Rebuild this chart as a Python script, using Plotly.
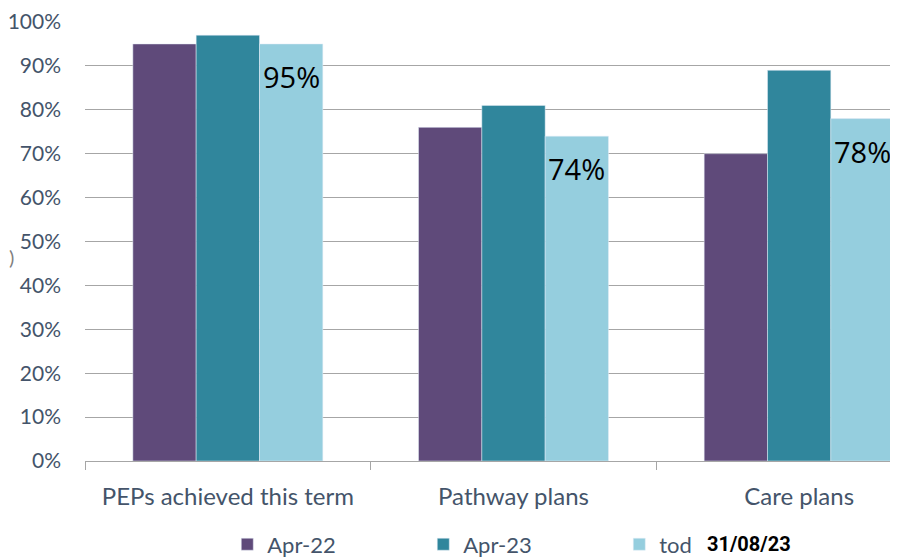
import plotly.graph_objects as go

categories = ["PEPs achieved this term", "Pathway plans", "Care plans"]
apr22 = [0.95, 0.76, 0.70]
apr23 = [0.97, 0.81, 0.89]
today = [0.95, 0.74, 0.78]
series_names = ["Apr-22", "Apr-23", "tod"]
date_label = "31/08/23"

colors = ["#5f4a7a", "#30869c", "#95cede"]
txt = "#44546a"
font_family = "Lato, 'Noto Sans', sans-serif"
bargap = 0.335
bar_w = (1 - bargap) / 3

fig = go.Figure()
fig.add_trace(go.Bar(x=categories, y=apr22, name=series_names[0], marker_color=colors[0]))
fig.add_trace(go.Bar(x=categories, y=apr23, name=series_names[1], marker_color=colors[1]))
fig.add_trace(go.Bar(x=categories, y=today, name=series_names[2], marker_color=colors[2]))

annotations = []
for i, v in enumerate(today):
    annotations.append(dict(
        text=f"{v:.0%}", x=i + bar_w, y=v, xref="x", yref="y",
        xanchor="center", yanchor="top", yshift=-12, showarrow=False,
        font=dict(size=29, color="black", family="'Open Sans', sans-serif"), borderpad=0))

annotations += [
    dict(text="<b>" + date_label + "</b>", xref="paper", yref="paper", x=0.764, y=-0.19,
         xanchor="left", yanchor="middle", showarrow=False,
         font=dict(size=20, color="black", family="Roboto, sans-serif"), borderpad=0),
    dict(text=")", xref="paper", yref="paper", x=-0.091, y=0.465, xanchor="center",
         yanchor="middle", showarrow=False, font=dict(size=20, color="#7f7f7f")),
]

fig.update_layout(
    width=890, height=552,
    margin=dict(l=77, r=0, t=14, b=99, autoexpand=False),
    paper_bgcolor="white", plot_bgcolor="white",
    barmode="group", bargap=bargap, bargroupgap=0,
    font=dict(family=font_family, color=txt),
    showlegend=True,
    legend=dict(orientation="h", x=0.175, xanchor="left", y=-0.19, yanchor="middle",
                font=dict(size=22, color=txt, family=font_family),
                entrywidth=151, entrywidthmode="pixels", traceorder="normal"),
    xaxis=dict(range=[-0.5, 2.346], showline=True, linecolor="#a6a6a6", linewidth=1,
               ticks="outside", tickson="boundaries", ticklen=8, tickcolor="#a6a6a6",
               showgrid=False, tickfont=dict(size=24, color=txt), ticklabelstandoff=14,
               automargin=False),
    yaxis=dict(range=[0, 1], dtick=0.1, tickformat=".0%", showgrid=True,
               gridcolor="#a6a6a6", gridwidth=1, zeroline=False, showline=False,
               ticks="", tickfont=dict(size=21, color=txt), ticklabelstandoff=23,
               automargin=False),
    annotations=annotations,
)

fig.write_html("out.html")
